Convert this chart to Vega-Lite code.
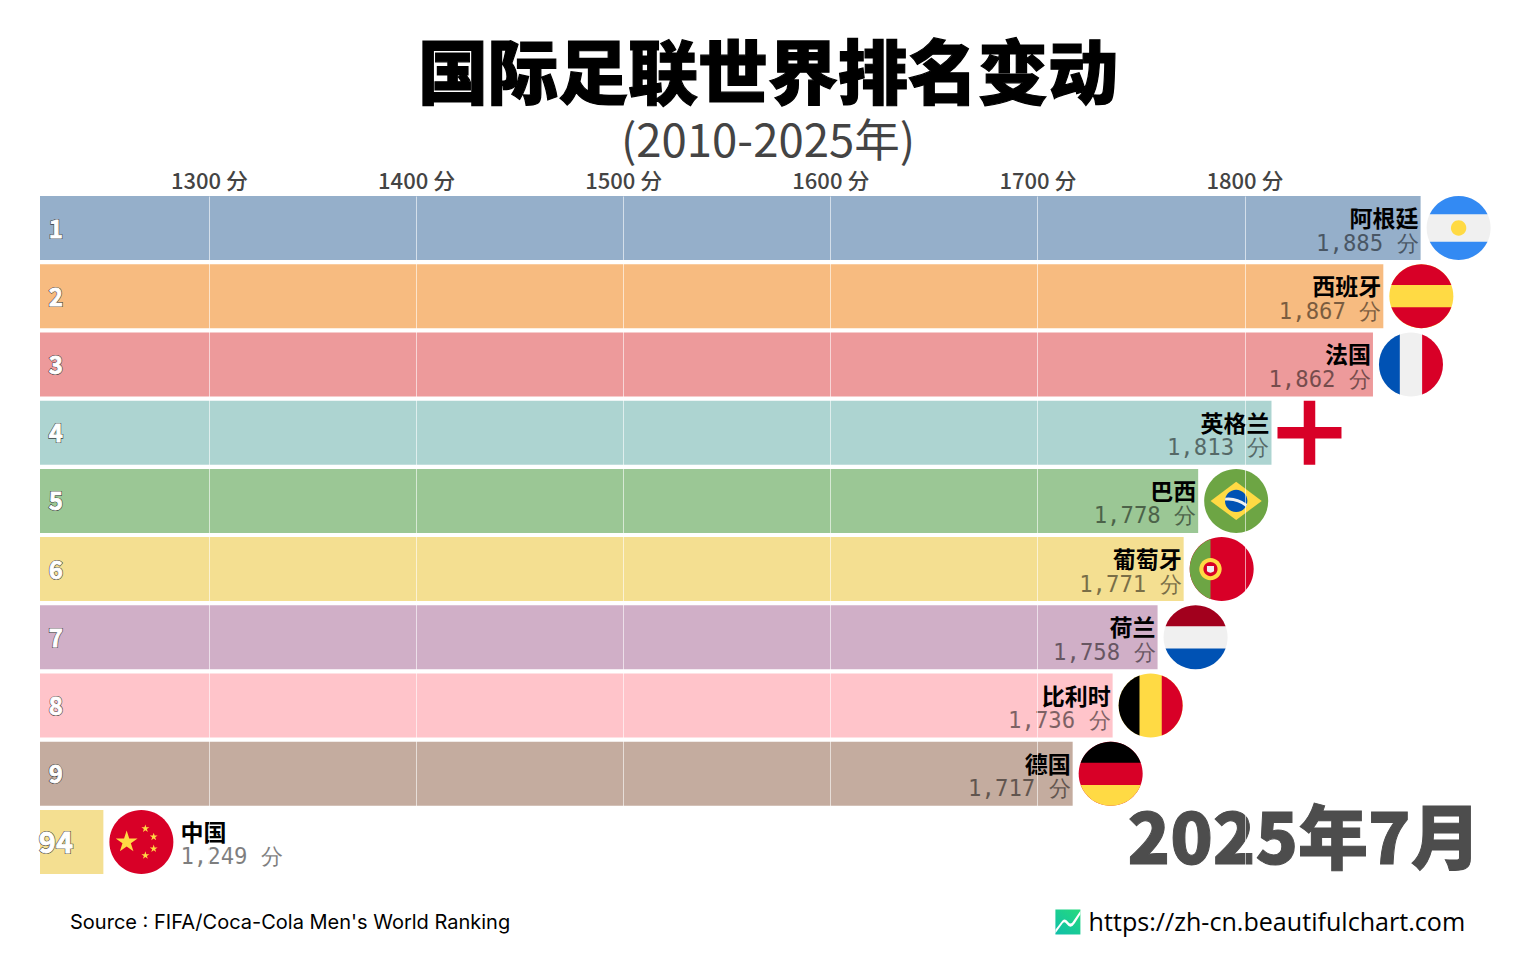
{
"$schema":"https://vega.github.io/schema/vega-lite/v6.json",
"width":1456,"height":678,"autosize":"none",
"padding":{"left":40,"top":196,"right":40,"bottom":86},
"background":"white",
"title":{"text":"国际足联世界排名变动","subtitle":"(2010-2025年)","anchor":"middle","font":"Noto Sans CJK SC","fontSize":70,"fontWeight":900,"color":"#000000","subtitleFont":"Noto Sans CJK SC","subtitleFontSize":45.5,"subtitleFontWeight":400,"subtitleColor":"#444444","subtitlePadding":7,"offset":3,"encoding":{"stroke":{"value":"#000000"},"strokeWidth":{"value":1.2}}},
"config":{"view":{"stroke":null}},
"datasets":{
"teams":[
{"name":"阿根廷","rank":1,"score":1885},
{"name":"西班牙","rank":2,"score":1867},
{"name":"法国","rank":3,"score":1862},
{"name":"英格兰","rank":4,"score":1813},
{"name":"巴西","rank":5,"score":1777.6},
{"name":"葡萄牙","rank":6,"score":1770.6},
{"name":"荷兰","rank":7,"score":1758},
{"name":"比利时","rank":8,"score":1736.3},
{"name":"德国","rank":9,"score":1717},
{"name":"中国","rank":94,"score":1249}
],
"flagParts":[
{"name":"阿根廷","part":"light"},{"name":"阿根廷","part":"arTop"},{"name":"阿根廷","part":"arBottom"},{"name":"阿根廷","part":"arSun"},
{"name":"西班牙","part":"yellow"},{"name":"西班牙","part":"redTop"},{"name":"西班牙","part":"redBottom"},
{"name":"法国","part":"light"},{"name":"法国","part":"blueLeft"},{"name":"法国","part":"redRight"},
{"name":"英格兰","part":"cross"},
{"name":"巴西","part":"green"},{"name":"巴西","part":"diamond"},{"name":"巴西","part":"brBlue"},{"name":"巴西","part":"brBand"},
{"name":"葡萄牙","part":"red"},{"name":"葡萄牙","part":"greenLeft"},{"name":"葡萄牙","part":"ptRing"},{"name":"葡萄牙","part":"ptInner"},{"name":"葡萄牙","part":"ptWhite"},
{"name":"荷兰","part":"light"},{"name":"荷兰","part":"darkRedTop"},{"name":"荷兰","part":"blueBottom"},
{"name":"比利时","part":"yellow"},{"name":"比利时","part":"blackLeft"},{"name":"比利时","part":"redRight"},
{"name":"德国","part":"red"},{"name":"德国","part":"blackTop"},{"name":"德国","part":"yellowBottom"},
{"name":"中国","part":"red"},{"name":"中国","part":"cnStars"}
]
},
"data":{"name":"teams"},
"layer":[
{"mark":{"type":"bar","opacity":0.6},
 "encoding":{
  "x":{"field":"score","type":"quantitative","scale":{"domain":[1218.4,1921.4],"zero":false,"nice":false,"clamp":true},
   "axis":{"orient":"top","values":[1300,1400,1500,1600,1700,1800],"labelExpr":"datum.value + ' 分'","title":null,"domain":false,"ticks":false,"grid":true,"gridColor":"#ffffff","gridOpacity":0.6,"gridWidth":1,"zindex":1,"labelFont":"Noto Sans CJK SC","labelFontSize":22,"labelFontWeight":500,"labelColor":"#444444","labelPadding":3,"labelAngle":0,"labelOverlap":false}},
  "y":{"field":"rank","type":"ordinal","scale":{"domain":[1,2,3,4,5,6,7,8,9,94],"paddingInner":0.0616,"paddingOuter":0},"axis":null},
  "color":{"field":"name","type":"nominal","legend":null,"scale":{"domain":["阿根廷","西班牙","法国","英格兰","巴西","葡萄牙","荷兰","比利时","德国","中国"],"range":["#4e79a7","#f28e2c","#e15759","#76b7b2","#59a14f","#edc948","#b07aa1","#ff9da7","#9c755f","#edc948"]}}
 }},
{"transform":[{"filter":"datum.rank < 10"}],
 "mark":{"type":"text","align":"center","baseline":"middle","font":"Noto Sans CJK SC","fontWeight":"bold","fontSize":24,"fill":"#222222","stroke":"#222222","strokeWidth":2,"opacity":0.8,"dy":2.5},
 "encoding":{"x":{"datum":1226.1,"type":"quantitative"},"y":{"field":"rank","type":"ordinal"},"text":{"field":"rank"}}},
{"transform":[{"filter":"datum.rank < 10"}],
 "mark":{"type":"text","align":"center","baseline":"middle","font":"Noto Sans CJK SC","fontWeight":"bold","fontSize":24,"fill":"#ffffff","stroke":"#ffffff","strokeWidth":0.8,"dy":2.5},
 "encoding":{"x":{"datum":1226.1,"type":"quantitative"},"y":{"field":"rank","type":"ordinal"},"text":{"field":"rank"}}},
{"transform":[{"filter":"datum.rank > 10"}],
 "mark":{"type":"text","align":"center","baseline":"middle","font":"Noto Sans CJK SC","fontWeight":"bold","fontSize":29,"fill":"#222222","stroke":"#222222","strokeWidth":2,"opacity":0.8,"dy":2.5},
 "encoding":{"x":{"datum":1226.1,"type":"quantitative"},"y":{"field":"rank","type":"ordinal"},"text":{"field":"rank"}}},
{"transform":[{"filter":"datum.rank > 10"}],
 "mark":{"type":"text","align":"center","baseline":"middle","font":"Noto Sans CJK SC","fontWeight":"bold","fontSize":29,"fill":"#ffffff","stroke":"#ffffff","strokeWidth":0.8,"dy":2.5},
 "encoding":{"x":{"datum":1226.1,"type":"quantitative"},"y":{"field":"rank","type":"ordinal"},"text":{"field":"rank"}}},
{"transform":[{"filter":"datum.rank < 10"}],
 "mark":{"type":"text","align":"right","baseline":"middle","font":"Noto Sans CJK SC","fontWeight":"bold","fontSize":23,"fill":"#000000","dx":-2,"dy":-8},
 "encoding":{"x":{"field":"score","type":"quantitative"},"y":{"field":"rank","type":"ordinal"},"text":{"field":"name"}}},
{"transform":[{"filter":"datum.rank < 10"},{"calculate":"format(datum.score, ',.0f') + ' 分'","as":"scoreLabel"}],
 "mark":{"type":"text","align":"right","baseline":"middle","font":"DejaVu Sans Mono","fontSize":22.3,"fill":"#000000","opacity":0.5,"dx":-2,"dy":15.5},
 "encoding":{"x":{"field":"score","type":"quantitative"},"y":{"field":"rank","type":"ordinal"},"text":{"field":"scoreLabel"}}},
{"transform":[{"filter":"datum.rank > 10"}],
 "mark":{"type":"text","align":"left","baseline":"middle","font":"Noto Sans CJK SC","fontWeight":"bold","fontSize":23,"fill":"#000000","dx":77,"dy":-8},
 "encoding":{"x":{"field":"score","type":"quantitative"},"y":{"field":"rank","type":"ordinal"},"text":{"field":"name"}}},
{"transform":[{"filter":"datum.rank > 10"},{"calculate":"format(datum.score, ',.0f') + ' 分'","as":"scoreLabel"}],
 "mark":{"type":"text","align":"left","baseline":"middle","font":"DejaVu Sans Mono","fontSize":22.3,"fill":"#000000","opacity":0.5,"dx":77,"dy":15.5},
 "encoding":{"x":{"field":"score","type":"quantitative"},"y":{"field":"rank","type":"ordinal"},"text":{"field":"scoreLabel"}}},
{"data":{"name":"flagParts"},
 "transform":[{"lookup":"name","from":{"data":{"name":"teams"},"key":"name","fields":["rank","score"]}}],
 "mark":{"type":"point","filled":true,"opacity":1,"strokeWidth":0,"size":4096,"xOffset":38},
 "encoding":{
  "x":{"field":"score","type":"quantitative"},
  "y":{"field":"rank","type":"ordinal"},
  "shape":{"field":"part","type":"nominal","legend":null,"scale":{
   "domain":["light","yellow","red","green","arTop","arBottom","arSun","redTop","redBottom","blueLeft","redRight","blackLeft","cross","diamond","brBlue","brBand","greenLeft","ptRing","ptInner","ptWhite","darkRedTop","blueBottom","blackTop","yellowBottom","cnStars"],
   "range":[
    "M-1 0A1 1 0 1 1 1 0A1 1 0 1 1 -1 0Z","M-1 0A1 1 0 1 1 1 0A1 1 0 1 1 -1 0Z","M-1 0A1 1 0 1 1 1 0A1 1 0 1 1 -1 0Z","M-1 0A1 1 0 1 1 1 0A1 1 0 1 1 -1 0Z",
    "M-.9028 -.43A1 1 0 0 1 .9028 -.43Z","M-.9028 .43A1 1 0 0 0 .9028 .43Z","M-.24 0A.24 .24 0 1 1 .24 0A.24 .24 0 1 1 -.24 0Z",
    "M-.9375 -.348A1 1 0 0 1 .9375 -.348Z","M-.9375 .348A1 1 0 0 0 .9375 .348Z",
    "M-.348 -.9375A1 1 0 0 0 -.348 .9375Z","M.348 -.9375A1 1 0 0 1 .348 .9375Z","M-.348 -.9375A1 1 0 0 0 -.348 .9375Z",
    "M-.18 -1H.18V-.18H1V.18H.18V1H-.18V.18H-1V-.18H-.18Z",
    "M0 -.6L.8 0L0 .6L-.8 0Z",
    "M-.35 0A.35 .35 0 1 1 .35 0A.35 .35 0 1 1 -.35 0Z",
    "M-.34 -.1Q.02 -.14 .34 .1L.31 .19Q.02 -.05 -.35 -.01Z",
    "M-.35 -.9367A1 1 0 0 0 -.35 .9367Z",
    "M-.7 0A.35 .35 0 1 1 0 0A.35 .35 0 1 1 -.7 0Z",
    "M-.57 0A.22 .22 0 1 1 -.13 0A.22 .22 0 1 1 -.57 0Z",
    "M-.46 -.1H-.24V.07Q-.35 .15 -.46 .07Z",
    "M-.9375 -.348A1 1 0 0 1 .9375 -.348Z","M-.9375 .348A1 1 0 0 0 .9375 .348Z","M-.9375 -.348A1 1 0 0 1 .9375 -.348Z","M-.9375 .348A1 1 0 0 0 .9375 .348Z",
    "M-.46 -.36L-.379 -.111L-.118 -.111L-.329 .042L-.248 .291L-.46 .138L-.672 .291L-.591 .042L-.802 -.111L-.541 -.111ZM.125 -.55L.154 -.46L.249 -.46L.172 -.405L.201 -.315L.125 -.37L.049 -.315L.078 -.405L.001 -.46L.096 -.46ZM.385 -.29L.414 -.2L.509 -.2L.432 -.145L.461 -.055L.385 -.11L.309 -.055L.338 -.145L.261 -.2L.356 -.2ZM.385 .08L.414 .17L.509 .17L.432 .225L.461 .315L.385 .26L.309 .315L.338 .225L.261 .17L.356 .17ZM.125 .29L.154 .38L.249 .38L.172 .435L.201 .525L.125 .47L.049 .525L.078 .435L.001 .38L.096 .38Z"
   ]}},
  "color":{"field":"part","type":"nominal","legend":null,"scale":{
   "domain":["light","yellow","red","green","arTop","arBottom","arSun","redTop","redBottom","blueLeft","redRight","blackLeft","cross","diamond","brBlue","brBand","greenLeft","ptRing","ptInner","ptWhite","darkRedTop","blueBottom","blackTop","yellowBottom","cnStars"],
   "range":["#f0f0f0","#ffda44","#d80027","#6da544","#338af3","#338af3","#ffda44","#d80027","#d80027","#0052b4","#d80027","#000000","#d80027","#ffda44","#0052b4","#f0f0f0","#6da544","#ffda44","#d80027","#f0f0f0","#a2001d","#0052b4","#000000","#ffda44","#ffda44"]}}
 }},
{"data":{"values":[{"label":"2025年7月"}]},
 "mark":{"type":"text","align":"right","baseline":"middle","font":"Noto Sans CJK SC","fontWeight":900,"fontSize":70,"fill":"#4d4d4d","stroke":"#4d4d4d","strokeWidth":1,"dy":1},
 "encoding":{"x":{"datum":1914,"type":"quantitative"},"y":{"datum":94,"type":"ordinal"},"text":{"field":"label"}}},
{"data":{"values":[{"label":"Source : FIFA/Coca-Cola Men's World Ranking"}]},
 "mark":{"type":"text","align":"left","baseline":"middle","font":"Inter","fontSize":20,"fill":"#000000","dy":81},
 "encoding":{"x":{"datum":1232.9,"type":"quantitative"},"y":{"datum":94,"type":"ordinal"},"text":{"field":"label"}}},
{"data":{"values":[{"label":"https://zh-cn.beautifulchart.com"}]},
 "mark":{"type":"text","align":"right","baseline":"middle","font":"Open Sans","fontSize":25.1,"fill":"#000000","dy":81},
 "encoding":{"x":{"datum":1906.5,"type":"quantitative"},"y":{"datum":94,"type":"ordinal"},"text":{"field":"label"}}},
{"data":{"values":[{"site":"logo"}]},
 "mark":{"type":"point","shape":"square","filled":true,"opacity":1,"strokeWidth":0,"size":625,"yOffset":80,"color":{"gradient":"linear","x1":0.9,"y1":0,"x2":0.1,"y2":1,"stops":[{"offset":0,"color":"#25d97f"},{"offset":1,"color":"#10c0a8"}]}},
 "encoding":{"x":{"datum":1714.7,"type":"quantitative"},"y":{"datum":94,"type":"ordinal"}}},
{"data":{"values":[{"site":"logo"}]},
 "mark":{"type":"point","shape":"M-1 .62L-.45 -.1Q-.2 -.35 .02 0Q.25 .3 .45 -.1L1 -.9V-.62L.55 .1Q.22 .62 -.12 .15Q-.25 -.08 -.42 .1L-1 .9Z","filled":true,"opacity":1,"strokeWidth":0,"size":625,"yOffset":80,"color":"#ffffff"},
 "encoding":{"x":{"datum":1714.7,"type":"quantitative"},"y":{"datum":94,"type":"ordinal"}}}
],
"resolve":{"scale":{"color":"independent"}}
}
